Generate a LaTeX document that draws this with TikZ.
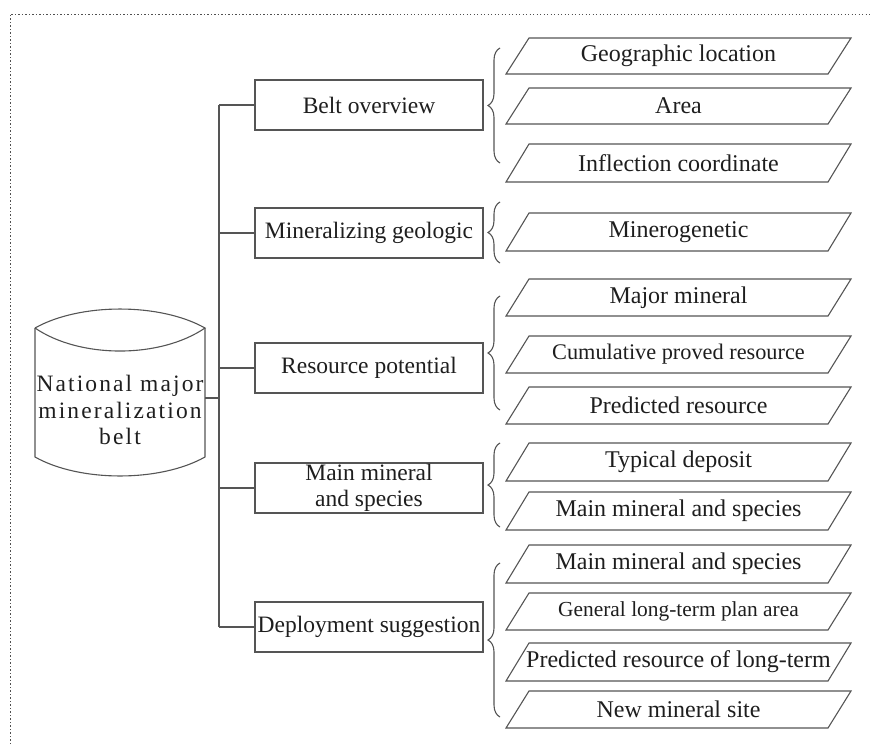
\documentclass[tikz,border=0pt]{standalone}
\usepackage{fontspec}
\setmainfont{Liberation Serif}
\usetikzlibrary{decorations.pathreplacing}
\definecolor{ln}{RGB}{85,85,85}
\definecolor{tx}{RGB}{30,30,30}
\definecolor{fr}{RGB}{80,80,80}
\newcommand{\mkpara}[5][]{%
  \draw[paraline] (506,#3) -- (529,#2) -- (851,#2) -- (828,#3) -- cycle;
  \node[paratext,#1] (#4) at (678.5,{(#2+#3)/2}) {#5};
}
\begin{document}
\begin{tikzpicture}[x=1pt,y=-1pt,
  every node/.style={text=tx, font=\fontsize{23.5}{26.5}\selectfont},
  catbox/.style={draw=ln, line width=1.1pt, minimum width=228pt, minimum height=50pt, inner sep=1pt, align=center},
  conn/.style={draw=ln, line width=1.1pt},
  bracestyle/.style={draw=ln, line width=1.1pt, decorate, decoration={brace, amplitude=12pt}},
  paraline/.style={draw=ln, line width=1.1pt},
  paratext/.style={font=\fontsize{24}{27}\selectfont},
  smalla/.style={font=\fontsize{22.3}{25}\selectfont},
  smallb/.style={font=\fontsize{21.4}{24}\selectfont},
]
\useasboundingbox (0,0) rectangle (872,744);
% dotted frame
\draw[fr, dash pattern=on 1.3pt off 2.2pt, line width=1pt] (10,744) -- (10,14) -- (872,14);

% cylinder
\draw[conn] (35,328) .. controls (80,302.7) and (160,302.7) .. (205,328)
  .. controls (160,358.7) and (80,358.7) .. (35,328);
\draw[conn] (35,328) -- (35,457) .. controls (80,482.3) and (160,482.3) .. (205,457) -- (205,328);
\node[align=center, minimum width=170pt, inner sep=0pt, font=\fontsize{23.5}{26.5}\selectfont\addfontfeatures{LetterSpace=9}] (cyl) at (120,410) {National major\\mineralization\\belt};

% category boxes
\node[catbox] (b1) at (369,105) {Belt overview};
\node[catbox] (b2) at (369,233) {Mineralizing geologic};
\node[catbox] (b3) at (369,368) {Resource potential};
\node[catbox] (b4) at (369,488) {Main mineral\\and species};
\node[catbox] (b5) at (369,627) {Deployment suggestion};

% trunk and connectors
\coordinate (t1) at (219,105);
\coordinate (t5) at (219,627);
\coordinate (j0) at (219,398);
\draw[conn] (t1) -- (t5);
\draw[conn] (cyl.east |- j0) -- (j0);
\foreach \b in {b1,b2,b3,b4,b5} \draw[conn] (\b.west -| t1) -- (\b.west);

% parallelograms
\mkpara{38}{74}{p11}{Geographic location}
\mkpara{88}{124}{p12}{Area}
\mkpara{144}{182}{p13}{Inflection coordinate}
\mkpara{213}{251}{p21}{Minerogenetic}
\mkpara{279}{316}{p31}{Major mineral}
\mkpara[smalla]{336}{373}{p32}{Cumulative proved resource}
\mkpara{387}{424}{p33}{Predicted resource}
\mkpara{443}{481}{p41}{Typical deposit}
\mkpara{492}{530}{p42}{Main mineral and species}
\mkpara{545}{583}{p51}{Main mineral and species}
\mkpara[smallb]{593}{630}{p52}{General long-term plan area}
\mkpara{643}{681}{p53}{Predicted resource of long-term}
\mkpara{691}{728}{p54}{New mineral site}

% braces
\coordinate (br1a) at (500,163); \coordinate (br1b) at (500,48);
\coordinate (br2a) at (500,263); \coordinate (br2b) at (500,202);
\coordinate (br3a) at (500,410); \coordinate (br3b) at (500,296);
\coordinate (br4a) at (500,527); \coordinate (br4b) at (500,443);
\coordinate (br5a) at (500,717); \coordinate (br5b) at (500,563);
\foreach \i in {1,...,5} \draw[bracestyle] (br\i a) -- (br\i b);
\end{tikzpicture}
\end{document}
